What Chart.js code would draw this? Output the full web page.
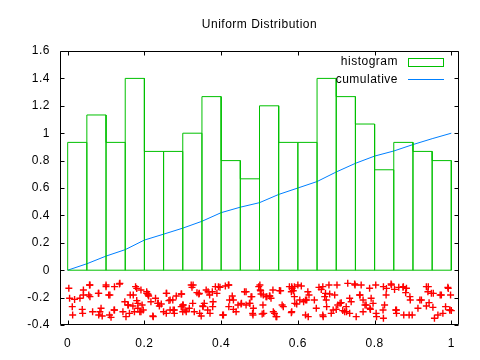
<!DOCTYPE html>
<html>
<head>
<meta charset="utf-8">
<script src="https://cdn.jsdelivr.net/npm/chart.js@4"></script>
<style>
  html, body { margin: 0; padding: 0; background: #fff; }
  canvas { display: block; }
</style>
</head>
<body>
<canvas id="c" width="480" height="360"></canvas>
<script>
// ---- data ----
const titleText = 'Uniform Distribution';
const xTicks = [0, 0.2, 0.4, 0.6, 0.8, 1];
const xTickLabels = ['0', '0.2', '0.4', '0.6', '0.8', '1'];
const yTicks = [-0.4, -0.2, 0, 0.2, 0.4, 0.6, 0.8, 1, 1.2, 1.4, 1.6];
const yTickLabels = ['-0.4', '-0.2', '0', '0.2', '0.4', '0.6', '0.8', '1', '1.2', '1.4', '1.6'];

const binWidth = 0.05;
const binStarts = [0, 0.05, 0.1, 0.15, 0.2, 0.25, 0.3, 0.35, 0.4, 0.45,
                   0.5, 0.55, 0.6, 0.65, 0.7, 0.75, 0.8, 0.85, 0.9, 0.95];
const binHeights = [0.933, 1.133, 0.933, 1.4, 0.867, 0.867, 1.0, 1.267, 0.8, 0.667,
                    1.2, 0.933, 0.933, 1.4, 1.267, 1.067, 0.733, 0.933, 0.867, 0.8];

const cumX = [0, 0.05, 0.1, 0.15, 0.2, 0.25, 0.3, 0.35, 0.4, 0.45, 0.5,
              0.55, 0.6, 0.65, 0.7, 0.75, 0.8, 0.85, 0.9, 0.95, 1];
const cumY = [0, 0.047, 0.103, 0.15, 0.22, 0.263, 0.307, 0.357, 0.42, 0.46, 0.493,
              0.553, 0.6, 0.647, 0.717, 0.78, 0.833, 0.87, 0.917, 0.96, 1.0];

const scatterX = [
  0.003,0.005,0.018,0.012,0.013,0.032,0.041,0.038,0.039,0.057,0.055,0.058,0.065,0.081,0.087,0.081,0.090,
  0.100,0.107,0.113,0.109,0.122,0.135,0.122,0.144,0.157,0.163,0.170,0.180,0.183,0.177,0.174,0.161,0.152,0.183,
  0.191,0.194,0.191,0.197,0.206,0.209,0.211,0.217,0.222,0.229,0.235,0.239,0.244,0.250,0.257,0.257,0.264,0.267,
  0.274,0.278,0.278,0.283,0.296,0.296,0.300,0.300,0.309,0.317,0.322,0.324,0.326,0.330,0.337,0.342,0.344,0.348,
  0.352,0.356,0.361,0.365,0.370,0.371,0.377,0.378,0.385,0.389,
  0.397,0.404,0.411,0.420,0.422,0.429,0.420,0.432,0.439,0.444,0.452,0.461,0.465,0.474,0.478,0.483,0.484,0.498,
  0.502,0.504,0.507,0.509,0.517,0.526,0.530,0.535,0.539,0.543,0.552,0.559,0.578,0.583,0.585,0.583,0.591,0.597,
  0.600,0.591,
  0.609,0.615,0.620,0.626,0.629,0.620,0.643,0.648,0.655,0.661,0.665,0.672,0.670,0.674,0.681,0.683,0.687,0.665,
  0.696,0.700,0.702,0.704,0.713,0.717,0.722,0.726,0.730,0.735,0.735,0.739,0.748,0.752,0.761,0.765,0.770,0.770,
  0.778,0.787,0.791,0.789,0.796,0.803,0.804,
  0.823,0.830,0.843,0.826,0.822,0.823,0.852,0.855,0.857,0.863,0.874,0.881,0.883,0.876,0.890,0.893,0.898,0.913,
  0.922,0.935,0.939,0.935,0.942,0.948,0.952,0.956,0.965,0.974,0.978,0.985,0.991,0.996,0.998,1.000,
  0.465,0.480,0.453,0.475,0.482,0.501,0.503,0.510,0.519,0.527,0.511,0.536,0.545,0.555,0.562,0.584,0.588,0.584,
  0.592,0.605,0.623,0.627,0.666,0.675,0.692,0.710,0.727,0.749,0.762,0.775,0.788,0.805,0.831,0.844,0.857,0.875,
  0.892,0.918,0.940,0.953,0.971,0.992,0.996,
  0.041,0.058,0.080,0.084,0.100,0.110,0.121,0.136,0.149,0.158,0.171,0.180,0.188,0.206,0.210,0.223,0.236,0.258,
  0.267,0.275,0.297,0.301,0.306,0.327,0.343,0.353,0.366,0.379,0.393,0.406,0.419,0.432
];
const scatterY = [
  -0.132,-0.205,-0.213,-0.266,-0.327,-0.205,-0.144,-0.286,-0.315,-0.108,-0.181,-0.193,-0.303,-0.169,-0.278,-0.327,-0.334,
  -0.120,-0.181,-0.344,-0.327,-0.120,-0.101,-0.290,-0.303,-0.254,-0.181,-0.261,-0.222,-0.242,-0.120,-0.303,-0.315,-0.339,-0.278,
  -0.144,-0.254,-0.303,-0.290,-0.157,-0.174,-0.188,-0.230,-0.334,-0.205,-0.242,-0.261,-0.247,-0.303,-0.169,-0.315,-0.222,-0.290,
  -0.217,-0.290,-0.315,-0.188,-0.174,-0.266,-0.254,-0.303,-0.303,-0.278,-0.108,-0.125,-0.242,-0.303,-0.164,-0.174,-0.315,-0.334,
  -0.261,-0.242,-0.144,-0.290,-0.181,-0.315,-0.157,-0.266,-0.120,-0.169,
  -0.125,-0.327,-0.115,-0.108,-0.217,-0.188,-0.266,-0.286,-0.303,-0.254,-0.247,-0.157,-0.254,-0.242,-0.193,-0.327,-0.278,-0.120,
  -0.144,-0.174,-0.320,-0.254,-0.193,-0.188,-0.205,-0.144,-0.315,-0.339,-0.149,-0.254,-0.120,-0.157,-0.132,-0.310,-0.193,-0.247,
  -0.108,-0.120,
  -0.115,-0.230,-0.217,-0.157,-0.181,-0.327,-0.217,-0.278,-0.125,-0.140,-0.120,-0.169,-0.193,-0.217,-0.108,-0.174,-0.315,-0.327,
  -0.181,-0.286,-0.108,-0.254,-0.237,-0.295,-0.303,-0.266,-0.096,-0.205,-0.315,-0.230,-0.101,-0.339,-0.181,-0.108,-0.217,-0.303,
  -0.254,-0.132,-0.205,-0.286,-0.242,-0.108,-0.315,
  -0.120,-0.181,-0.101,-0.254,-0.290,-0.351,-0.140,-0.290,-0.315,-0.125,-0.125,-0.164,-0.132,-0.327,-0.327,-0.217,-0.327,-0.278,
  -0.217,-0.120,-0.157,-0.261,-0.237,-0.169,-0.271,-0.351,-0.327,-0.181,-0.315,-0.266,-0.125,-0.290,-0.181,-0.295,
  -0.157,-0.193,-0.242,-0.242,-0.315,-0.108,-0.150,-0.181,-0.193,-0.188,-0.315,-0.303,-0.339,-0.150,-0.266,-0.120,-0.150,-0.303,
  -0.242,-0.218,-0.218,-0.339,-0.339,-0.266,-0.290,-0.242,-0.303,-0.108,-0.181,-0.254,-0.278,-0.339,-0.133,-0.108,-0.290,-0.120,
  -0.193,-0.218,-0.120,-0.169,-0.181,-0.133,-0.290,
  -0.181,-0.108,-0.169,-0.303,-0.108,-0.181,-0.291,-0.096,-0.230,-0.254,-0.181,-0.133,-0.303,-0.169,-0.181,-0.339,-0.242,-0.169,
  -0.218,-0.291,-0.174,-0.254,-0.291,-0.108,-0.169,-0.266,-0.157,-0.230,-0.120,-0.327,-0.108,-0.218
];

// ---- build library data ----
const histOutline = [];
binStarts.forEach((x0, i) => {
  const x1 = x0 + binWidth;
  histOutline.push({x: x0, y: 0}, {x: x0, y: binHeights[i]}, {x: x1, y: binHeights[i]}, {x: x1, y: 0});
});
histOutline.push({x: binStarts[0], y: 0});

const cumData = cumX.map((x, i) => ({x, y: cumY[i]}));
const scatData = scatterX.map((x, i) => ({x, y: scatterY[i]}));

const GREEN = '#00c000', BLUE = '#0080ff', RED = '#ff0000';
const FAMILY = '"Liberation Sans", Arial, sans-serif';
const FONT = {family: FAMILY, size: 12};
const SPACING = '0.5px';

const framePlugin = {
  id: 'frame',
  beforeDraw(chart) {
    const ctx = chart.ctx;
    ctx.fillStyle = '#fff';
    ctx.fillRect(0, 0, chart.width, chart.height);
    try { ctx.letterSpacing = SPACING; } catch (e) {}
  },
  afterDraw(chart) {
    const ctx = chart.ctx;
    const a = chart.chartArea;
    const xs = chart.scales.x, ys = chart.scales.y;
    const L = Math.round(a.left) + 0.5, R = Math.round(a.right) - 0.5;
    const T = Math.round(a.top) + 0.5, B = Math.round(a.bottom) - 0.5;
    ctx.save();
    ctx.strokeStyle = '#000';
    ctx.lineWidth = 1;
    ctx.beginPath();
    ctx.rect(L, T, R - L, B - T);
    const tl = 4;
    yTicks.forEach(v => {
      const y = Math.round(ys.getPixelForValue(v)) + 0.5;
      ctx.moveTo(L, y); ctx.lineTo(L + tl, y);
      ctx.moveTo(R, y); ctx.lineTo(R - tl, y);
    });
    xTicks.forEach(v => {
      const x = Math.round(xs.getPixelForValue(v)) + 0.5;
      ctx.moveTo(x, B); ctx.lineTo(x, B - tl);
      ctx.moveTo(x, T); ctx.lineTo(x, T + tl);
    });
    ctx.stroke();

    // title
    ctx.fillStyle = '#000';
    ctx.font = '12px ' + FAMILY;
    try { ctx.letterSpacing = SPACING; } catch (e) {}
    ctx.textAlign = 'center';
    ctx.textBaseline = 'middle';
    ctx.fillText(titleText, (a.left + a.right) / 2, 25);

    // legend
    ctx.textAlign = 'right';
    ctx.fillText('histogram', 398, 62);
    ctx.fillText('cumulative', 398, 80);
    ctx.strokeStyle = GREEN;
    ctx.strokeRect(408.5, 58.5, 35, 8);
    ctx.strokeStyle = BLUE;
    ctx.beginPath();
    ctx.moveTo(408, 79.5); ctx.lineTo(444, 79.5);
    ctx.stroke();
    ctx.restore();
  }
};

new Chart(document.getElementById('c'), {
  type: 'line',
  data: {
    datasets: [
      {
        label: 'histogram', data: histOutline, borderColor: GREEN, borderWidth: 1,
        pointRadius: 0, tension: 0, fill: false
      },
      {
        label: 'cumulative', data: cumData, borderColor: BLUE, borderWidth: 1,
        pointRadius: 0, tension: 0, fill: false
      },
      {
        type: 'scatter', label: 'points', data: scatData, showLine: false,
        pointStyle: 'cross', pointRadius: 3.5, borderColor: RED, backgroundColor: RED,
        borderWidth: 1.4
      }
    ]
  },
  options: {
    responsive: false,
    devicePixelRatio: 1,
    animation: false,
    events: [],
    layout: {padding: {top: 51, right: 21, left: 0, bottom: 0}},
    plugins: {legend: {display: false}, title: {display: false}, tooltip: {enabled: false}},
    scales: {
      x: {
        type: 'linear', min: -0.02, max: 1.02, offset: false,
        afterBuildTicks: s => { s.ticks = xTicks.map(v => ({value: v})); },
        afterFit: s => { s.height = 35; },
        ticks: {
          callback: (v, i) => xTickLabels[i], font: FONT, color: '#000',
          padding: 3, maxRotation: 0, autoSkip: false
        },
        grid: {display: false}, border: {display: false}
      },
      y: {
        type: 'linear', min: -0.4, max: 1.6,
        afterBuildTicks: s => { s.ticks = yTicks.map(v => ({value: v})); },
        afterFit: s => { s.width = 60; },
        ticks: {
          callback: (v, i) => yTickLabels[i], font: FONT, color: '#000',
          padding: 2, autoSkip: false
        },
        grid: {display: false}, border: {display: false}
      }
    }
  },
  plugins: [framePlugin]
});
</script>
</body>
</html>
